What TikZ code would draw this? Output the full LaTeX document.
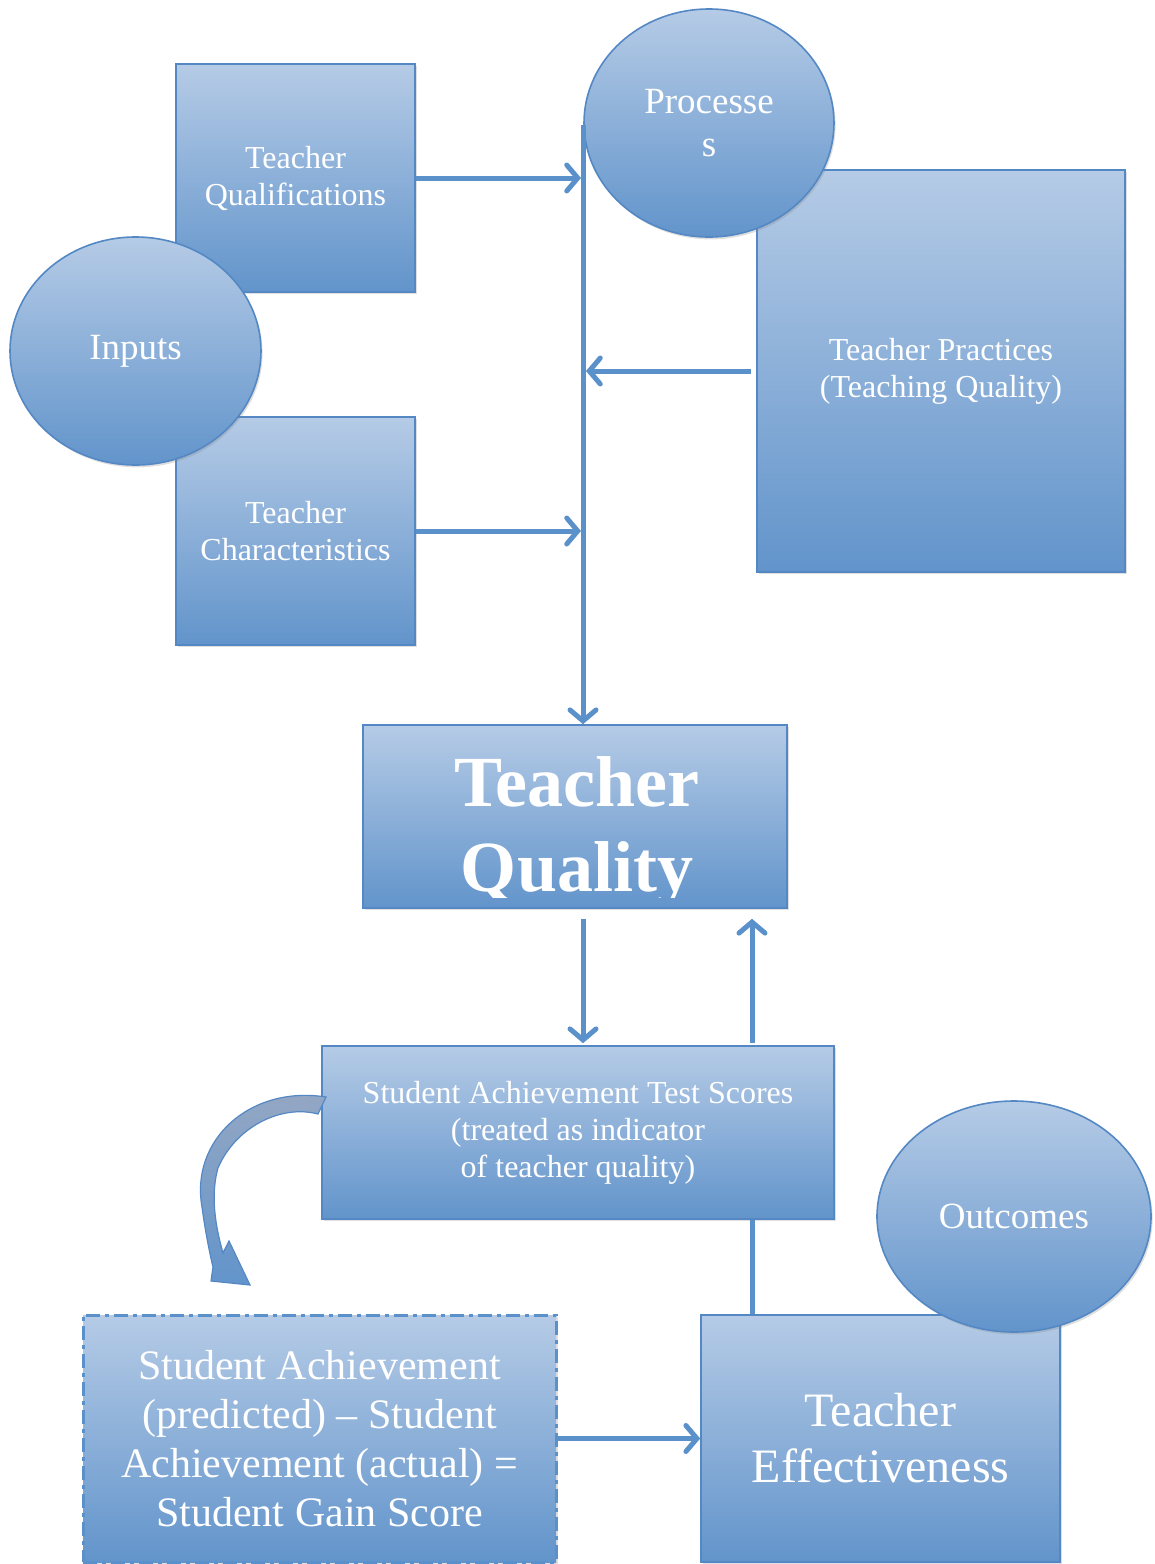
\documentclass[tikz,border=0pt]{standalone}
\usepackage{fontspec}
\setmainfont{Liberation Serif}
\usetikzlibrary{positioning,calc,shapes.geometric,arrows.meta,shadows}
\definecolor{qtop}{RGB}{181,203,230}
\definecolor{qbot}{RGB}{98,148,203}
\definecolor{qborder}{RGB}{84,136,196}
\definecolor{qline}{RGB}{90,145,203}
\definecolor{qgrey}{RGB}{150,168,195}
\tikzset{
  box/.style={rectangle, draw=qborder, line width=0.8pt, top color=qtop, bottom color=qbot,
    text=white, align=center, inner sep=0pt, font=\fontsize{16}{18.5}\selectfont,
    drop shadow={opacity=0.25, shadow xshift=0.8pt, shadow yshift=-1.2pt}},
  blob/.style={ellipse, draw=qborder, line width=0.8pt, top color=qtop, bottom color=qbot,
    text=white, align=center, inner sep=0pt, font=\fontsize{18.5}{21.5}\selectfont,
    drop shadow={opacity=0.25, shadow xshift=0.8pt, shadow yshift=-1.2pt}},
  connect/.style={-{Straight Barb[length=5.5pt,width=13pt,line cap=round]}, line width=2.5pt, draw=qline},
  bare/.style={line width=2.5pt, draw=qline}
}
\begin{document}
\begin{tikzpicture}[x=0.5pt,y=-0.5pt]
  \useasboundingbox (0,0) rectangle (1155,1564);

  % inputs and processes
  \node[box, minimum width=119.5pt, minimum height=114pt] (qual) at (295.5,178) {Teacher\\Qualifications};
  \node[box, minimum width=119.5pt, minimum height=114pt] (char) at (295.5,531) {Teacher\\Characteristics};
  \node[box, minimum width=184pt, minimum height=201pt] (prac) at (941,371) {Teacher Practices\\(Teaching Quality)};
  \node[blob, minimum width=125.5pt, minimum height=114pt] (inputs) at (135.5,351) {Inputs};
  \node[blob, minimum width=125pt, minimum height=114pt] (proc) at (709,123) {Processe\\s};

  % teacher quality, label cut off at the bottom edge
  \node[box, minimum width=212pt, minimum height=91.5pt] (tq) at (575,816.5) {};
  \begin{scope}
    \clip (363,725) rectangle (787,897);
    \node[text=white, align=center, font=\fontsize{36}{42.5}\selectfont\bfseries] (tqlabel) at (577,832) {Teacher\\Quality};
  \end{scope}

  % outcomes
  \node[box, minimum width=256pt, minimum height=86.5pt] (sats) at (578,1132.5)
    {Student Achievement Test Scores\\(treated as indicator\\of teacher quality)};
  \node[box, minimum width=179.5pt, minimum height=123.5pt, font=\fontsize{24}{28}\selectfont] (eff) at (880.5,1438.5)
    {Teacher\\Effectiveness};
  \node[box, draw=qline, line width=1.5pt, dash pattern=on 7pt off 2.5pt on 2pt off 2.5pt,
    minimum width=236.5pt, minimum height=123.5pt, font=\fontsize{21}{24.5}\selectfont] (gain) at (319.5,1438.5)
    {Student Achievement\\(predicted) -- Student\\Achievement (actual) =\\Student Gain Score};
  \node[blob, minimum width=137pt, minimum height=115.5pt] (outc) at (1014,1216.5) {Outcomes};

  % connectors
  \coordinate (top) at (583,125);
  \coordinate (link) at (752,1219);
  \draw[bare] (top) -- (top |- prac.west);
  \draw[connect] (top |- prac.west) -- (top |- tq.north);
  \draw[connect, shorten >=1pt] (qual.east) -- (top |- qual.east);
  \draw[connect, shorten >=1pt] (char.east) -- (top |- char.east);
  \draw[connect, shorten <=2.5pt, shorten >=1.5pt] (prac.west) -- (top |- prac.west);
  \draw[connect, shorten <=5pt, shorten >=1pt] (top |- tq.south) -- (top |- sats.north);
  \draw[connect, shorten <=1pt, shorten >=5pt] (link |- sats.north) -- (link |- tq.south);
  \draw[bare] (link |- sats.south) -- (link |- eff.north);
  \draw[connect] (gain.east) -- (eff.west);

  % curved block arrow
  \draw[line width=0.6pt, draw=qborder, top color=qgrey, bottom color=qbot]
    (326,1097) .. controls (250,1085) and (190,1140) .. (202,1207)
    .. controls (205,1230) and (210,1255) .. (213,1267) -- (211,1281) -- (250,1285) -- (229,1241)
    -- (223,1253) .. controls (218,1235) and (209,1200) .. (218,1168)
    .. controls (235,1128) and (280,1104) .. (318,1114) -- cycle;
\end{tikzpicture}
\end{document}
